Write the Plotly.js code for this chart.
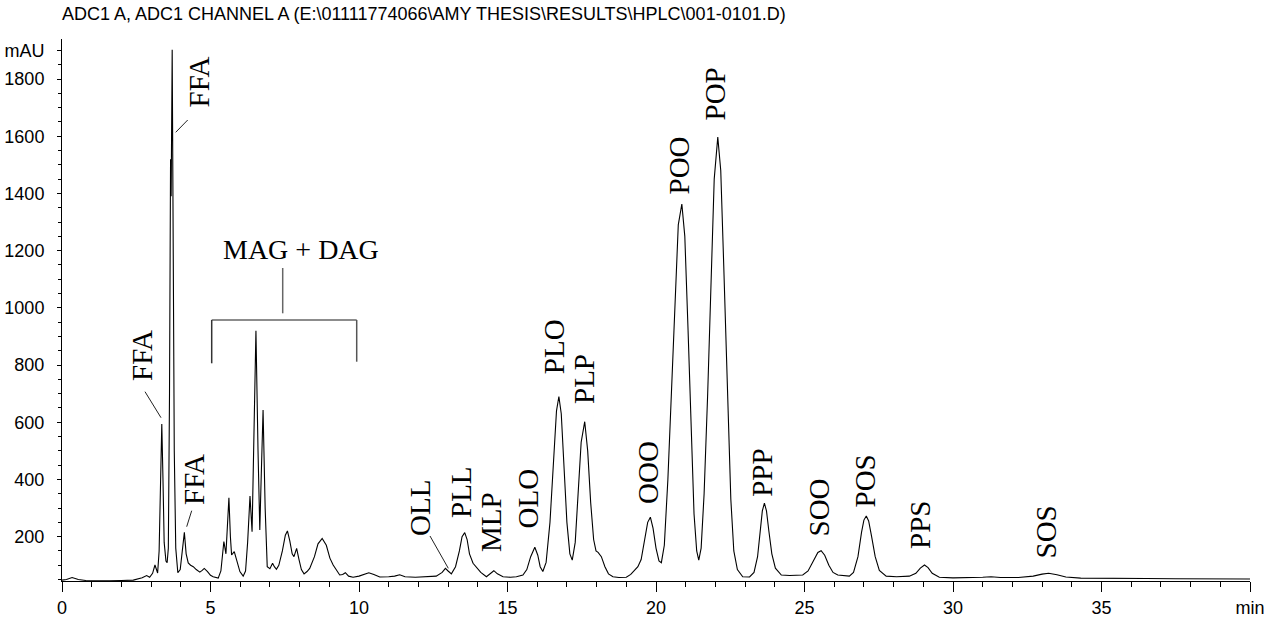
<!DOCTYPE html>
<html><head><meta charset="utf-8">
<script src="https://cdn.plot.ly/plotly-3.0.1.min.js"></script>
<style>html,body{margin:0;padding:0;background:#fff}#chart{width:1265px;height:617px}</style>
</head><body><div id="chart"></div>
<script>
// ---- data ----
const time = [0.00,0.15,0.34,0.55,0.8,1.2,1.6,2.0,2.4,2.7,2.85,2.95,3.05,3.13,3.19,3.22,3.27,3.31,3.36,3.40,3.44,3.50,3.54,3.58,3.62,3.655,3.675,3.71,3.74,3.78,3.83,3.90,3.98,4.05,4.12,4.18,4.25,4.33,4.42,4.52,4.64,4.72,4.79,4.90,5.00,5.09,5.26,5.35,5.40,5.45,5.52,5.57,5.62,5.67,5.71,5.80,5.88,5.99,6.10,6.18,6.25,6.33,6.40,6.46,6.53,6.60,6.66,6.71,6.77,6.84,6.91,7.00,7.09,7.15,7.22,7.30,7.42,7.52,7.59,7.67,7.75,7.81,7.90,7.98,8.06,8.15,8.25,8.34,8.50,8.62,8.76,8.90,9.02,9.13,9.25,9.35,9.45,9.54,9.65,9.80,10.0,10.33,10.50,10.70,11.0,11.2,11.37,11.55,11.9,12.3,12.6,12.8,12.91,13.0,13.11,13.25,13.38,13.47,13.56,13.64,13.72,13.84,13.95,14.10,14.29,14.42,14.54,14.66,14.85,15.1,15.3,15.52,15.65,15.78,15.92,16.02,16.10,16.19,16.30,16.43,16.55,16.65,16.73,16.81,16.90,17.00,17.10,17.18,17.28,17.38,17.48,17.60,17.70,17.80,17.90,17.98,18.05,18.16,18.28,18.40,18.55,18.75,19.00,19.15,19.30,19.39,19.50,19.62,19.72,19.81,19.90,20.00,20.10,20.18,20.28,20.40,20.52,20.64,20.75,20.87,20.97,21.08,21.18,21.28,21.37,21.44,21.52,21.62,21.74,21.86,21.96,22.08,22.18,22.28,22.40,22.52,22.62,22.74,22.92,23.15,23.30,23.42,23.52,23.58,23.65,23.72,23.80,23.90,24.02,24.22,24.50,24.80,24.94,25.12,25.30,25.45,25.56,25.68,25.82,25.96,26.12,26.51,26.65,26.80,26.92,27.00,27.08,27.16,27.26,27.38,27.52,27.75,28.10,28.53,28.75,28.90,29.04,29.16,29.30,29.54,30.0,30.5,31.0,31.28,31.6,32.2,32.7,33.0,33.22,33.5,33.8,34.3,35.0,35.8,36.5,37.5,38.5,40.0];
const absorbance = [48,50,57,50,47,46,46,47,48,56,64,58,72,101,80,73,150,420,594,400,180,115,109,160,700,1520,1390,1902,1300,500,160,74,85,150,215,140,108,100,95,85,76,82,89,78,65,60,55,80,140,183,140,230,336,200,136,148,115,78,62,80,180,342,217,500,920,500,223,420,643,300,95,88,107,95,86,100,150,205,220,185,140,130,159,120,85,70,78,89,130,175,194,170,125,101,80,66,68,74,62,58,62,74,68,59,60,62,67,60,58,60,62,75,89,80,70,95,150,200,214,190,140,107,95,75,60,70,81,70,60,58,60,66,85,130,163,135,95,78,110,250,470,640,690,630,450,250,140,118,180,350,530,602,500,320,190,150,145,130,95,70,60,57,58,68,85,95,120,185,250,268,230,160,115,109,170,400,720,1050,1290,1363,1250,920,560,280,150,118,160,350,700,1150,1450,1597,1480,1150,700,330,150,85,60,59,75,130,230,290,317,290,220,140,90,66,64,65,66,80,115,145,151,135,100,75,66,62,75,130,215,258,272,255,200,130,82,62,60,62,72,90,101,92,72,58,56,56,58,60,57,57,62,69,72,67,59,55,54,55,54,53,52,52];

const xTickValues = [0,5,10,15,20,25,30,35,40];
const xTickLabels = ['0','5','10','15','20','25','30','35','min'];
const yTickValues = [200,400,600,800,1000,1200,1400,1600,1800,1900];
const yTickLabels = ['200','400','600','800','1000','1200','1400','1600','1800','mAU'];

const peakNames = ['FFA','FFA','FFA','OLL','PLL','MLP','OLO','PLO','PLP','OOO','POO','POP','PPP','SOO','POS','PPS','SOS'];
const titleText = 'ADC1 A, ADC1 CHANNEL A (E:\\01111774066\\AMY THESIS\\RESULTS\\HPLC\\001-0101.D)';
const groupLabel = 'MAG + DAG';

// ---- layout geometry (pixels) ----
const W = 1265, H = 617;
const plotL = 62, plotR = 1250, plotT = 39, plotB = 581;
const xRange = [0, 40], yRange = [45, 1940];
function px2x(px){ return xRange[0] + (px - plotL) / (plotR - plotL) * (xRange[1] - xRange[0]); }
function py2y(py){ return yRange[1] - (py - plotT) / (plotB - plotT) * (yRange[1] - yRange[0]); }

// label centre positions in pixels (same order as peakNames)
const labelPos = [[198,82.5],[142,356],[194,480],[420,508],[461,492],[490.5,522.5],[527.5,499],[553.5,346.7],[584,379],[648,473],[678,165.5],[714.5,94],[762.5,473.3],[818,507.5],[864.5,481],[920,525],[1045,532.5]];

const serif = 'Liberation Serif, Times New Roman, serif';
const annotations = peakNames.map((t,i)=>({
  text:t, x:px2x(labelPos[i][0]), y:py2y(labelPos[i][1]), xref:'x', yref:'y',
  showarrow:false, textangle:-90, xanchor:'center', yanchor:'middle',
  font:{family:serif, size:29, color:'#000'}
}));
annotations.push({text:groupLabel, x:px2x(300.5), y:py2y(249), xref:'x', yref:'y', showarrow:false,
  xanchor:'center', yanchor:'middle', font:{family:serif, size:28, color:'#000'}});

function seg(x0,y0,x1,y1,color,width){
  return {type:'line', xref:'x', yref:'y', x0:px2x(x0), y0:py2y(y0), x1:px2x(x1), y1:py2y(y1),
    line:{color:color, width:width}};
}
const shapes = [
  seg(187.7,120,175.7,132.3,'#222',1),
  seg(145,391.7,161,417.7,'#222',1),
  seg(191.7,510.7,186.7,526.7,'#222',1),
  seg(430,536,448.3,568.3,'#222',1),
  seg(211.7,320,356.7,320,'#666',1.5),
  seg(211.7,320,211.7,363.3,'#333',1.5),
  seg(356.7,320,356.7,361.7,'#555',1.5),
  seg(282.7,268,282.7,313.3,'#666',1.5)
];

const trace = {x:time, y:absorbance, type:'scatter', mode:'lines',
  line:{color:'#000', width:1.1, shape:'linear'}, hoverinfo:'x+y', showlegend:false};

const axisFont = {family:'Liberation Sans, Arial, sans-serif', size:18, color:'#000'};
const layout = {
  width:W, height:H, paper_bgcolor:'#fff', plot_bgcolor:'#fff',
  margin:{l:plotL, r:W-plotR, t:plotT, b:H-plotB, pad:0},
  title:{text:titleText, font:{family:'Liberation Sans, Arial, sans-serif', size:18, color:'#000'},
    xref:'paper', x:0, xanchor:'left', yref:'container', y:1-14/H, yanchor:'middle'},
  xaxis:{range:xRange, showline:true, linecolor:'#000', linewidth:1, showgrid:false, zeroline:false,
    tickmode:'array', tickvals:xTickValues, ticktext:xTickLabels, ticks:'outside', ticklen:10, tickcolor:'#000',
    tickfont:axisFont,
    minor:{tickmode:'linear', tick0:0, dtick:1, ticks:'outside', ticklen:5, tickcolor:'#000', showgrid:false}},
  yaxis:{range:yRange, showline:true, linecolor:'#000', linewidth:1, showgrid:false, zeroline:false,
    tickmode:'array', tickvals:yTickValues, ticktext:yTickLabels, ticks:'outside', ticklen:4, tickcolor:'#000',
    tickfont:axisFont, ticklabelstandoff:9,
    minor:{tickmode:'linear', tick0:0, dtick:50, ticks:'outside', ticklen:3, tickcolor:'#000', showgrid:false}},
  annotations:annotations, shapes:shapes
};
Plotly.newPlot('chart', [trace], layout, {displayModeBar:false, staticPlot:true});
</script></body></html>
